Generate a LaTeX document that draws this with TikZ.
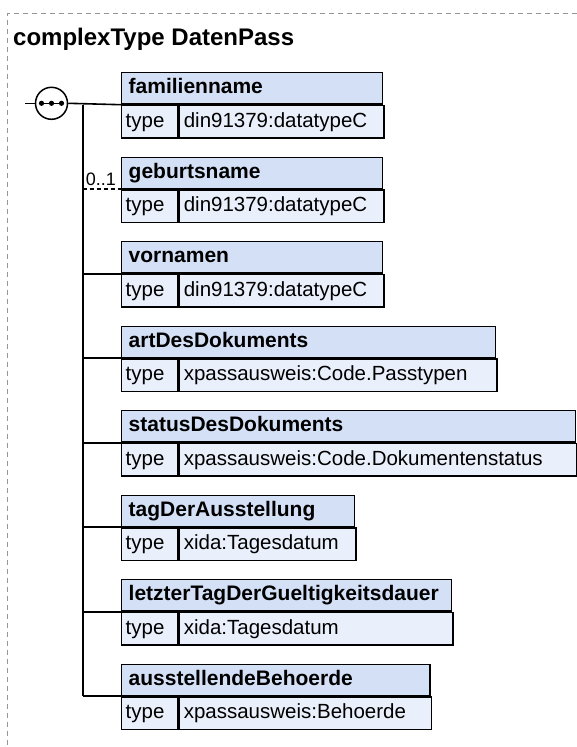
\documentclass[tikz,border=0pt]{standalone}
\usepackage{fontspec}
\setmainfont{Liberation Sans}
\definecolor{hdrc}{RGB}{212,224,246}
\definecolor{rowc}{RGB}{234,240,251}
\definecolor{framec}{RGB}{150,150,150}
\tikzset{
  hdr/.style={draw, fill=hdrc, line width=1.4pt, minimum height=31.3pt, inner ysep=0pt, inner xsep=7pt,
    align=left, text height=15pt, text depth=4pt, font=\fontsize{21}{25}\selectfont\bfseries},
  rowcell/.style={draw, fill=rowc, line width=1.4pt, minimum height=32.7pt, inner ysep=0pt,
    align=left, text height=15pt, text depth=4pt, font=\fontsize{20.5}{25}\selectfont},
  conn/.style={line width=1.6pt},
  shadowbox/.style={fill=black!25}
}
\newcommand{\xsdelem}[5]{%
  \fill[shadowbox] (122.5,#2+1.5) rectangle (#3+1.4,#2+65.4);
  \pgfmathsetmacro{\ww}{#3-121-14}
  \node[hdr, text width=\ww pt, anchor=north west] (h#1) at (121,#2) {#4};
  \node[rowcell, text width=48pt, inner xsep=4pt, anchor=north west] (t#1) at (h#1.south west) {type};
  \pgfmathsetmacro{\vw}{#3-177-9.4}
  \node[rowcell, text width=\vw pt, inner xsep=4.7pt, anchor=north west] (v#1) at (t#1.north east) {#5};
}
\begin{document}
\begin{tikzpicture}[x=1pt, y=-1pt]
\useasboundingbox (0,0) rectangle (577,747);
% frame
\draw[framec, line width=1pt, dash pattern=on 5pt off 4pt] (577,13) -- (7.5,13) -- (7.5,747);
% title
\node[anchor=base west, inner sep=0pt, font=\fontsize{24}{28}\selectfont\bfseries] (title) at (13,45) {complexType DatenPass};
% elements
\xsdelem{1}{72}{381.7}{familienname}{din91379:datatypeC}
\xsdelem{2}{156.5}{381.7}{geburtsname}{din91379:datatypeC}
\xsdelem{3}{241}{381.7}{vornamen}{din91379:datatypeC}
\xsdelem{4}{325.5}{495}{artDesDokuments}{xpassausweis:Code.Passtypen}
\xsdelem{5}{410}{575}{statusDesDokuments}{xpassausweis:Code.Dokumentenstatus}
\xsdelem{6}{494.5}{354}{tagDerAusstellung}{xida:Tagesdatum}
\xsdelem{7}{579}{450.7}{letzterTagDerGueltigkeitsdauer}{xida:Tagesdatum}
\xsdelem{8}{663.5}{429.3}{ausstellendeBehoerde}{xpassausweis:Behoerde}
% sequence compositor
\node[circle, draw, fill=white, line width=1.5pt, minimum size=32pt, inner sep=0pt] (seq) at (51.5,103.3) {};
\coordinate (in) at (25,103.3);
\draw[conn] (in) -- (seq.west);
\draw[conn] (seq.east) -- (h1.south west);
\draw[line width=1.5pt] ([xshift=-11pt]seq.center) -- ([xshift=11pt]seq.center);
\foreach \dx in {-10,0,10} \fill ([xshift=\dx pt]seq.center) circle (2.6pt);
% spine
\coordinate (spine) at (82.7,0);
\draw[conn] (spine |- h1.south west) -- (spine |- h8.south west);
\foreach \i in {3,...,8} \draw[conn] (spine |- h\i.south west) -- (h\i.south west);
\draw[conn, dash pattern=on 4pt off 3pt] (spine |- h2.south west) -- (h2.south west);
\node[anchor=base east, inner sep=0pt, font=\fontsize{18}{20}\selectfont] (occ) at (116,185.5) {0..1};
\end{tikzpicture}
\end{document}
